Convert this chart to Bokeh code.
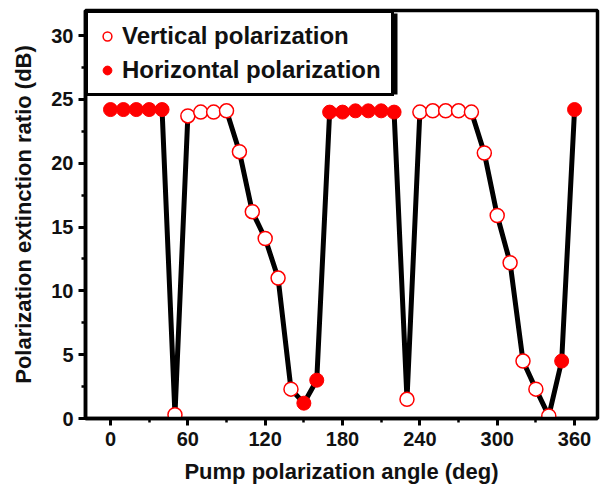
from bokeh.plotting import figure
from bokeh.models import Legend, LegendItem, Range1d, FixedTicker, BoxAnnotation
from bokeh.embed import file_html
from bokeh.resources import INLINE

# Data
angle = [0, 10, 20, 30, 40, 50, 60, 70, 80, 90, 100, 110, 120, 130, 140, 150, 160,
         170, 180, 190, 200, 210, 220, 230, 240, 250, 260, 270, 280, 290, 300, 310,
         320, 330, 340, 350, 360]
ratio = [24.2, 24.2, 24.2, 24.2, 24.2, 0.3, 23.7, 24.0, 24.0, 24.1, 20.9, 16.2, 14.1,
         11.0, 2.3, 1.2, 3.0, 24.0, 24.0, 24.1, 24.1, 24.1, 24.0, 1.5, 24.0, 24.1,
         24.1, 24.1, 24.0, 20.8, 15.9, 12.2, 4.5, 2.3, 0.2, 4.5, 24.2]
pol = ["H", "H", "H", "H", "H", "V", "V", "V", "V", "V", "V", "V", "V", "V", "V", "H", "H",
       "H", "H", "H", "H", "H", "H", "V", "V", "V", "V", "V", "V", "V", "V", "V",
       "V", "V", "V", "H", "H"]
x_ticks = [0, 60, 120, 180, 240, 300, 360]
y_ticks = [0, 5, 10, 15, 20, 25, 30]
legend_labels = ["Vertical polarization", "Horizontal polarization"]

vx = [a for a, p in zip(angle, pol) if p == "V"]
vy = [r for r, p in zip(ratio, pol) if p == "V"]
hx = [a for a, p in zip(angle, pol) if p == "H"]
hy = [r for r, p in zip(ratio, pol) if p == "H"]

FONT = "Liberation Sans"
TXT = "#111111"

W, H = 603, 486
BL, BR, BT, BB = 85, 6, 10, 68
FH = H - BT - BB

p = figure(width=W, height=H, output_backend="svg", toolbar_location=None,
           x_range=Range1d(-19.4, 377.8), y_range=Range1d(0, 31.96),
           min_border_left=BL, min_border_right=BR, min_border_top=BT, min_border_bottom=BB)

p.grid.visible = False
p.outline_line_color = "black"
p.outline_line_width = 3.5
p.background_fill_color = "white"

p.line(angle, ratio, line_color="black", line_width=5)
rv = p.scatter(vx, vy, size=14, marker="circle", fill_color="white", line_color="red", line_width=1.5)
rh = p.scatter(hx, hy, size=14, marker="circle", fill_color="red", line_color="red", line_width=1)

for ax in (p.xaxis[0], p.yaxis[0]):
    ax.axis_line_width = 3.5
    ax.axis_line_color = "black"
    ax.major_tick_line_width = 3
    ax.minor_tick_line_width = 2.5
    ax.major_tick_in = 0
    ax.major_tick_out = 7
    ax.minor_tick_in = 0
    ax.minor_tick_out = 4
    ax.major_label_text_font = FONT
    ax.major_label_text_font_style = "bold"
    ax.major_label_text_font_size = "20px"
    ax.major_label_text_color = TXT
    ax.axis_label_text_font = FONT
    ax.axis_label_text_font_style = "bold"
    ax.axis_label_text_color = TXT

p.xaxis.ticker = FixedTicker(ticks=x_ticks, minor_ticks=[t + 30 for t in x_ticks[:-1]])
p.yaxis.ticker = FixedTicker(ticks=y_ticks, minor_ticks=[t + 2.5 for t in y_ticks])
p.xaxis.axis_label = "Pump polarization angle (deg)"
p.yaxis.axis_label = "Polarization extinction ratio (dB)"
p.xaxis.axis_label_text_font_size = "22px"
p.yaxis.axis_label_text_font_size = "22px"
p.xaxis.axis_label_standoff = 10
p.yaxis.axis_label_standoff = 12
p.xaxis.major_label_standoff = 6
p.yaxis.major_label_standoff = 5

# legend shadow (screen units: x from frame left, y up from frame bottom)
shadow = BoxAnnotation(left=3, right=312, top=FH - 3, bottom=FH - 84,
                       left_units="screen", right_units="screen",
                       top_units="screen", bottom_units="screen",
                       fill_color="black", fill_alpha=1, line_color=None, level="annotation")
p.add_layout(shadow)

legend = Legend(items=[LegendItem(label=legend_labels[0], renderers=[rv]),
                       LegendItem(label=legend_labels[1], renderers=[rh])],
                location="top_left", margin=0, padding=8, spacing=4,
                glyph_width=22, glyph_height=30, label_standoff=4, label_height=30,
                label_width=261,
                border_line_color="black", border_line_width=3, border_line_alpha=1,
                label_text_font=FONT, label_text_font_style="bold",
                label_text_font_size="24px", label_text_color=TXT,
                background_fill_alpha=1, background_fill_color="white")
p.add_layout(legend, "center")

open("out.html", "w").write(file_html(p, INLINE))
